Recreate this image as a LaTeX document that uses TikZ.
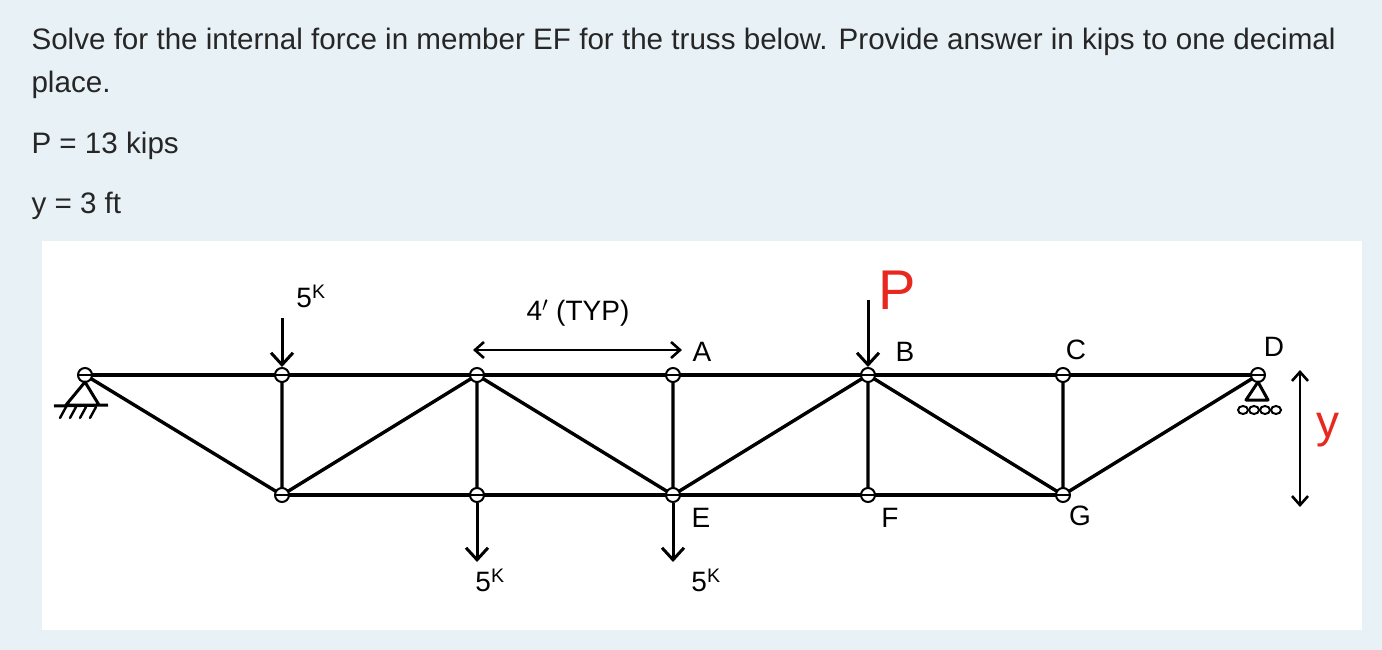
\documentclass[tikz,border=0pt]{standalone}
\usepackage{fontspec}
\setmainfont{Liberation Sans}
\usetikzlibrary{arrows.meta,calc}
\definecolor{bg}{HTML}{E8F1F5}
\definecolor{pred}{HTML}{E8281E}
\tikzset{mem/.style={line width=3.4pt,black},
 jt/.style={circle,draw,line width=2pt,inner sep=0pt,minimum size=14pt},
 load/.style={line width=3pt,-{Straight Barb[length=12pt,width=22pt]}},
 hand/.style={font=\fontsize{28}{28}\selectfont},
 dimarr/.style={line width=2.6pt,{Straight Barb[length=9pt,width=16pt]}-{Straight Barb[length=9pt,width=16pt]}},
 qtext/.style={anchor=base west,font=\fontsize{29.6}{29.6}\selectfont,text=black!85}}
\begin{document}
\begin{tikzpicture}[x=1pt,y=-1pt]
\fill[bg] (0,0) rectangle (1382,650);
\fill[white] (42,241) rectangle (1362,630);
\useasboundingbox (0,0) rectangle (1382,650);
\node[qtext] (t1) at (28,50) {Solve for the internal force in member EF for the truss below. Provide answer in kips to one decimal};
\node[qtext] (t2) at (28,93) {place.};
\node[qtext] (t3) at (28,154) {P = 13 kips};
\node[qtext] (t4) at (28,213) {y = 3 ft};
% joints
\foreach \n/\x in {T0/85,T1/282,T2/477,A/673,B/868,C/1063,D/1258}
  \coordinate (\n) at (\x,375);
\foreach \n/\x in {L1/282,L2/477,E/673,F/868,G/1063}
  \coordinate (\n) at (\x,495);
\draw[mem] (T0)--(D) (L1)--(G);
\draw[mem] (T0)--(L1)--(T1) (L1)--(T2)--(L2) (T2)--(E)--(A) (E)--(B)--(F) (B)--(G)--(C) (G)--(D);
\foreach \n in {T0,T1,T2,A,B,C,D,L1,L2,E,F,G} \node[jt,fill=white] (j\n) at (\n) {};
\foreach \n in {T0,T1,T2,A,B,C,D,L1,L2,E,F,G} \draw[line width=1.6pt] ($(\n)+(-7,0)$)--($(\n)+(7,0)$);
% supports
\draw[line width=3pt,line join=round] (85,382)--(66,405)--(99,405)--cycle (54,406)--(108,405);
\foreach \x in {62,72,82,92} \draw[line width=2.4pt,line cap=round] (\x+4,407)--(\x-2,418);
\draw[line width=3pt,line join=round] (1258,382)--(1246,400)--(1268,400)--cycle;
\foreach \x in {1243,1254,1265,1276}\draw[line width=2pt] (\x,410) ellipse (5pt and 4pt);
% loads
\coordinate (p1) at (282,318); \draw[load] (p1)--(jT1);
\coordinate (p2) at (868,300); \draw[load] (p2)--(jB);
\coordinate (p3) at (477,562); \draw[load] (jL2)--(p3);
\coordinate (p4) at (673,562); \draw[load] (jE)--(p4);
\node[hand] (k1) at (311,296) {5\textsuperscript{K}};
\node[hand] (k2) at (490,580) {5\textsuperscript{K}};
\node[hand] (k3) at (706,580) {5\textsuperscript{K}};
\node[text=pred,font=\fontsize{56}{56}\selectfont] (P) at (897,290) {P};
\node[hand] (la) at (702,352) {A};
\node[hand] (lb) at (905,352) {B};
\node[hand] (lc) at (1076,350) {C};
\node[hand] (ld) at (1274,347) {D};
\node[hand] (le) at (701,518) {E};
\node[hand] (lf) at (890,518) {F};
\node[hand] (lg) at (1080,516) {G};
% dimension
\coordinate (d1) at (473,350); \coordinate (d2) at (682,350);
\draw[dimarr] (d1)--(d2);
\node[hand] (typ) at (578,313) {4$'$ (TYP)};
\coordinate (y1) at (1300,370); \coordinate (y2) at (1300,507);
\draw[dimarr] (y1)--(y2);
\node[text=pred,font=\fontsize{46}{46}\selectfont] (yl) at (1328,430) {y};
\end{tikzpicture}
\end{document}
